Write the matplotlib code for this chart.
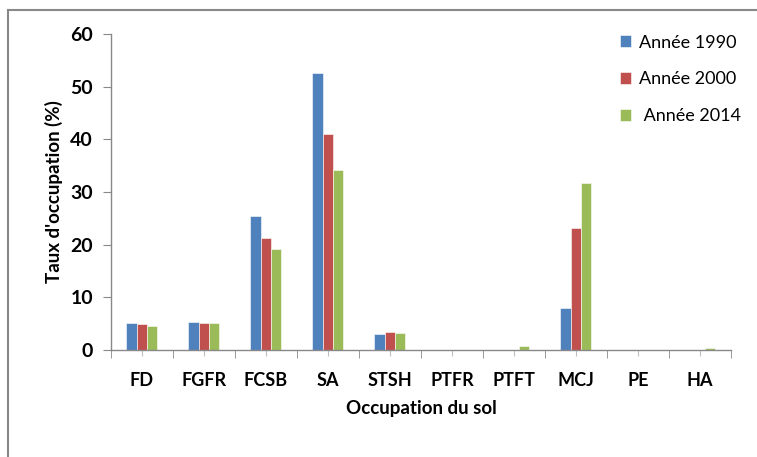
import numpy as np
import matplotlib.pyplot as plt
from matplotlib.lines import Line2D

categories = ["FD", "FGFR", "FCSB", "SA", "STSH", "PTFR", "PTFT", "MCJ", "PE", "HA"]
v1990 = [5.1, 5.4, 25.4, 52.6, 3.0, 0.0, 0.0, 7.9, 0.0, 0.0]
v2000 = [4.9, 5.2, 21.2, 41.1, 3.4, 0.0, 0.0, 23.2, 0.0, 0.0]
v2014 = [4.6, 5.2, 19.1, 34.1, 3.2, 0.0, 0.8, 31.7, 0.0, 0.4]
labels = ["Année 1990", "Année 2000", " Année 2014"]
colors = ["#4F81BD", "#C0504D", "#9BBB59"]

plt.rcParams['font.family'] = ['Lato', 'DejaVu Sans']

fig = plt.figure(figsize=(7.57, 4.57), dpi=100)
ax = fig.add_axes([0.1466, 0.2341, 0.819, 0.6915])

x = np.arange(len(categories))
w = 1 / 6
for i, vals in enumerate([v1990, v2000, v2014]):
    ax.bar(x + (i - 1) * w, vals, width=w, color=colors[i], edgecolor="white",
           linewidth=0.4, label=labels[i], zorder=2)

ax.set_xlim(-0.5, len(categories) - 0.5)
ax.set_ylim(0, 60)
ax.set_yticks(range(0, 61, 10))
ax.set_yticklabels([str(v) for v in range(0, 61, 10)], fontweight="bold", fontsize=14)
ax.set_xticks(x)
ax.set_xticklabels(categories, fontweight="bold", fontsize=13)
ax.set_xticks(np.arange(-0.5, len(categories), 1), minor=True)
ax.tick_params(axis="x", which="major", length=4, color="#C0C0C0", pad=12)
ax.tick_params(axis="x", which="minor", length=6, color="#888888")
ax.tick_params(axis="y", length=6, color="#888888", pad=7)

for s in ["top", "right"]:
    ax.spines[s].set_visible(False)
for s in ["left", "bottom"]:
    ax.spines[s].set_color("#888888")
    ax.spines[s].set_linewidth(1.0)

ax.set_ylabel("Taux d'occupation (%)", fontweight="bold", fontsize=13.5, labelpad=5)
ax.set_xlabel("Occupation du sol", fontweight="bold", fontsize=13.5, labelpad=8)

fig.legend(loc="upper left", bbox_to_anchor=(0.797, 0.96), frameon=False,
           fontsize=13, handlelength=0.65, handleheight=0.65, handletextpad=0.45,
           labelspacing=1.15)

# outer frame (chart area border)
fig.add_artist(Line2D([0.011, 0.011], [0, 0.978], color="#888888", lw=1.5,
                      transform=fig.transFigure))
fig.add_artist(Line2D([0.011, 1.0], [0.978, 0.978], color="#888888", lw=1.5,
                      transform=fig.transFigure))

fig.savefig("out.png", dpi=100)
